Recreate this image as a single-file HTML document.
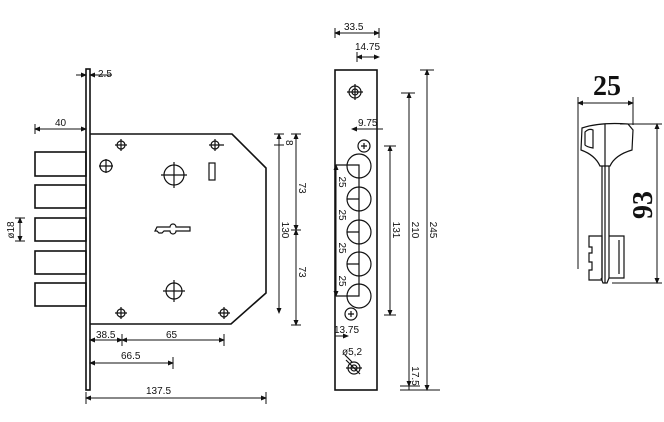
<!DOCTYPE html>
<html><head><meta charset="utf-8"><style>
html,body{margin:0;padding:0;background:#fff}
svg{display:block}
text{font-family:"Liberation Sans",sans-serif;font-size:10px;fill:#111}
.s{font-family:"Liberation Serif",serif;font-weight:bold;font-size:28px}
</style></head><body>
<svg width="664" height="422" viewBox="0 0 664 422" xmlns="http://www.w3.org/2000/svg">
<defs>
<marker id="a" markerWidth="6" markerHeight="6" refX="5" refY="3" orient="auto-start-reverse" markerUnits="userSpaceOnUse"><path d="M0,0.5 L6,3 L0,5.5z" fill="#111"/></marker>
</defs>
<g stroke="#111" fill="none" stroke-width="1.6">
<rect x="86" y="69" width="4" height="321"/>
<path d="M90,134 H232 L266,168 V293 L231,324 H90"/>
<rect x="35" y="152" width="51" height="24"/>
<rect x="35" y="185" width="51" height="23"/>
<rect x="35" y="218" width="51" height="23"/>
<rect x="35" y="251" width="51" height="23"/>
<rect x="35" y="283" width="51" height="23"/>
<g stroke-width="1.2">
<circle cx="121" cy="145" r="4"/><path d="M115,145h12M121,139v12"/>
<circle cx="215" cy="145" r="4"/><path d="M209,145h15M215,139v12"/>
<circle cx="121" cy="313" r="4"/><path d="M115,313h12M121,307v12"/>
<circle cx="224" cy="313" r="4"/><path d="M218,313h12M224,307v12"/>
<circle cx="106" cy="166" r="6"/><path d="M99,166h14M106,159v14"/>
<circle cx="174" cy="175" r="10"/><path d="M161,175h26M174,162v26"/>
<circle cx="174" cy="291" r="8"/><path d="M163,291h22M174,280v22"/>
<rect x="209" y="163" width="6" height="17"/>
<path d="M157,227 h13 a3,3 0 0 1 6,0 h14 v4 h-14 a3,3 0 0 1 -6,0 h-6 l-2,2 h-3 l-2,-2 h-2z"/>
</g>
<rect x="335" y="70" width="42" height="320"/>
<g stroke-width="1.2">
<circle cx="355" cy="92" r="6"/><circle cx="355" cy="92" r="3"/><path d="M347,92h16M355,84v16"/>
<circle cx="359" cy="166" r="12"/><circle cx="359" cy="199" r="12"/><circle cx="359" cy="232" r="12"/><circle cx="359" cy="264" r="12"/><circle cx="359" cy="296" r="12"/>
<path d="M336,165h23V296h-23M347,199h12M347,232h12M347,264h12"/>
<circle cx="364" cy="146" r="6"/><path d="M361,146h6M364,143v6"/>
<circle cx="351" cy="314" r="6"/><path d="M348,314h6M351,311v6"/>
<circle cx="354" cy="368" r="6"/><circle cx="354" cy="368" r="3"/><path d="M346,360l14,14M346,368h16"/>
<path d="M345,355l7,7"/>
</g>
<g stroke-width="1">
<path d="M76,75h10" marker-end="url(#a)"/><path d="M100,75h-10" marker-end="url(#a)"/><path d="M100,75h12"/>
<path d="M35,124v10"/>
<path d="M35,129H86" marker-start="url(#a)" marker-end="url(#a)"/>
<path d="M15,218h10M15,241h10"/>
<path d="M20,218v23" marker-start="url(#a)" marker-end="url(#a)"/>
<path d="M274,134h10M274,145h10M291,134h10M291,325h10M291,230h10"/>
<path d="M279,134V313" marker-start="url(#a)" marker-end="url(#a)"/>
<path d="M296,134V230" marker-start="url(#a)" marker-end="url(#a)"/>
<path d="M296,230V325" marker-start="url(#a)" marker-end="url(#a)"/>
<path d="M90,340H122" marker-start="url(#a)" marker-end="url(#a)"/>
<path d="M122,340H224" marker-start="url(#a)" marker-end="url(#a)"/>
<path d="M224,334v12M122,334v12"/>
<path d="M90,363H173" marker-start="url(#a)" marker-end="url(#a)"/>
<path d="M173,357v12"/>
<path d="M86,398H266" marker-start="url(#a)" marker-end="url(#a)"/>
<path d="M86,392v12M266,392v12"/>
<path d="M335,28v10M379,28v10M357,52v10"/>
<path d="M335,33H379" marker-start="url(#a)" marker-end="url(#a)"/>
<path d="M357,57H379" marker-start="url(#a)" marker-end="url(#a)"/>
<path d="M352,129H383" marker-start="url(#a)"/>
<path d="M336,165V296" marker-start="url(#a)" marker-end="url(#a)"/>
<path d="M335,336h13" marker-end="url(#a)"/>
<path d="M384,146h12M384,315h12M401,93h14M400,386h20M400,390h40M420,70h14"/>
<path d="M390,146V315" marker-start="url(#a)" marker-end="url(#a)"/>
<path d="M409,93V386" marker-start="url(#a)" marker-end="url(#a)"/>
<path d="M409,386V390"/>
<path d="M427,70V390" marker-start="url(#a)" marker-end="url(#a)"/>
<path d="M578,97v172M633,97v28"/>
<path d="M578,103H633" marker-start="url(#a)" marker-end="url(#a)"/>
<path d="M620,124h42M612,283h50"/>
<path d="M657,124V283" marker-start="url(#a)" marker-end="url(#a)"/>
</g>
<g stroke-width="1.2">
<path d="M582,128 Q600,122 628,124 L633,130 L632,150 Q615,155 610,166 H600 Q595,155 581,150 Z"/>
<path d="M585,132 Q589,128 593,130 V148 Q587,147 585,145 Z"/>
<path d="M605,124V283"/>
<path d="M602,166V278M609,166V278"/>
<path d="M589,236h13v44h-13v-10h3v-8h-3v-9h3v-6h-3z"/>
<path d="M609,236h15v42h-15M619,240v34"/>
<path d="M601,278l2,5h4l2,-5"/>
</g>
</g>
<text x="98" y="77">2.5</text>
<text x="55" y="126">40</text>
<text transform="translate(14,230) rotate(-90)" text-anchor="middle" font-size="9">ø18</text>
<text transform="translate(286,140) rotate(90)" font-size="8">8</text>
<text transform="translate(282,230) rotate(90)" text-anchor="middle">130</text>
<text transform="translate(299,188) rotate(90)" text-anchor="middle">73</text>
<text transform="translate(299,272) rotate(90)" text-anchor="middle">73</text>
<text x="96" y="338">38.5</text>
<text x="166" y="338">65</text>
<text x="121" y="359">66.5</text>
<text x="146" y="394">137.5</text>
<text x="344" y="30">33.5</text>
<text x="355" y="50">14.75</text>
<text x="358" y="126">9.75</text>
<text transform="translate(339,182) rotate(90)" text-anchor="middle">25</text>
<text transform="translate(339,215) rotate(90)" text-anchor="middle">25</text>
<text transform="translate(339,248) rotate(90)" text-anchor="middle">25</text>
<text transform="translate(339,281) rotate(90)" text-anchor="middle">25</text>
<text x="334" y="333">13.75</text>
<text x="342" y="355">ø5,2</text>
<text transform="translate(393,230) rotate(90)" text-anchor="middle">131</text>
<text transform="translate(412,230) rotate(90)" text-anchor="middle">210</text>
<text transform="translate(430,230) rotate(90)" text-anchor="middle">245</text>
<text transform="translate(412,376) rotate(90)" text-anchor="middle">17.5</text>
<text class="s" x="607" y="95" text-anchor="middle">25</text>
<text class="s" transform="translate(652,205) rotate(-90)" text-anchor="middle">93</text>
</svg>
</body></html>
